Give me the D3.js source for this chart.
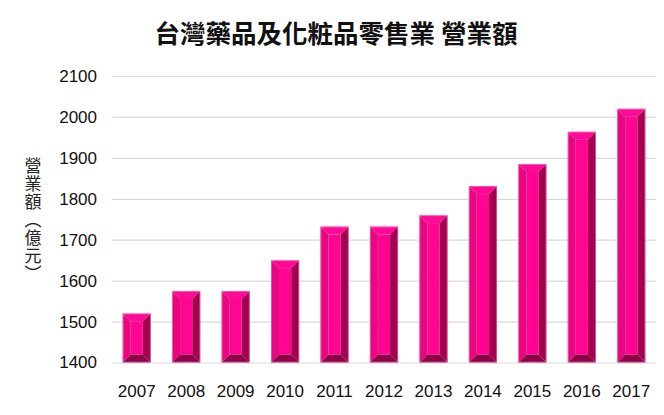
<!DOCTYPE html>
<html><head><meta charset="utf-8">
<script src="https://cdn.jsdelivr.net/npm/d3@7/dist/d3.min.js"></script>
<style>body{margin:0;background:#fff}svg{display:block}</style>
</head><body><svg id="c" width="664" height="415"></svg>
<script>
const years = ["2007","2008","2009","2010","2011","2012","2013","2014","2015","2016","2017"];
const revenue = [1520,1575,1575,1650,1732,1732,1760,1831,1885,1964,2020];
const yTicks = [1400,1500,1600,1700,1800,1900,2000,2100];
const title = "台灣藥品及化粧品零售業 營業額";
const yTitle = "營業額（億元）";

const svg = d3.select("#c");
const x = d3.scaleBand().domain(years).range([112, 656]).paddingInner(0.43).paddingOuter(0.215);
const y = d3.scaleLinear().domain([1400, 2100]).range([362.5, 76]);
const cjk = "'Noto Sans CJK TC','Noto Sans CJK SC',sans-serif";

svg.append("text").attr("x", 336).attr("y", 43).attr("text-anchor","middle")
  .attr("font-family",cjk).attr("font-weight","bold")
  .attr("font-size",25.5).attr("fill","#111").text(title);

const gy = svg.append("g").attr("transform","translate(112,0)")
  .call(d3.axisLeft(y).tickValues(yTicks).tickSize(-544).tickPadding(15).tickFormat(d3.format("d")));
gy.select(".domain").remove();
gy.selectAll(".tick line").attr("stroke","#d9d9d9").attr("stroke-width",1.2);
gy.selectAll(".tick text").attr("font-family","'Liberation Sans',Arial,sans-serif").attr("font-size",17).attr("fill","#111");

const gx = svg.append("g").attr("transform","translate(0,362.5)")
  .call(d3.axisBottom(x).tickSize(0).tickPadding(22));
gx.select(".domain").remove();
gx.selectAll(".tick text").attr("font-family","'Liberation Sans',Arial,sans-serif").attr("font-size",17).attr("fill","#111");

// vertical y-axis title (single text, vertical writing mode)
svg.append("text").attr("x",33).attr("y",220)
  .attr("text-anchor","middle")
  .style("writing-mode","vertical-rl").style("text-orientation","mixed")
  .style("font-feature-settings","'vert' 1")
  .attr("lang","zh-Hant")
  .attr("letter-spacing",1)
  .attr("font-family",cjk).attr("font-size",17).attr("fill","#222")
  .text(yTitle);

const b = 8;
const y0 = y(1400);
const bars = svg.append("g").selectAll("g").data(years.map((d,i)=>({k:d,v:revenue[i]}))).join("g");
const pts = a => a.map(p=>p.join(",")).join(" ");
bars.each(function(d){
  const g = d3.select(this);
  const X = x(d.k), W = x.bandwidth(), Y = y(d.v);
  g.append("rect").attr("x",X+b).attr("y",Y+b).attr("width",W-2*b).attr("height",Math.max(0,y0-Y-2*b)).attr("fill","#ff0592");
  g.append("polygon").attr("points",pts([[X,Y],[X+W,Y],[X+W-b,Y+b],[X+b,Y+b]])).attr("fill","#ff0a96");
  g.append("polygon").attr("points",pts([[X,Y],[X+b,Y+b],[X+b,y0-b],[X,y0]])).attr("fill","#ea0680");
  g.append("polygon").attr("points",pts([[X+W,Y],[X+W,y0],[X+W-b,y0-b],[X+W-b,Y+b]])).attr("fill","#a3004f");
  g.append("polygon").attr("points",pts([[X,y0],[X+b,y0-b],[X+W-b,y0-b],[X+W,y0]])).attr("fill","#8f0046");
  g.append("rect").attr("x",X+0.5).attr("y",Y+0.5).attr("width",W-1).attr("height",y0-Y-1)
    .attr("fill","none").attr("stroke","#f59bc9").attr("stroke-width",0.8).attr("stroke-opacity",0.6);
});
</script></body></html>
